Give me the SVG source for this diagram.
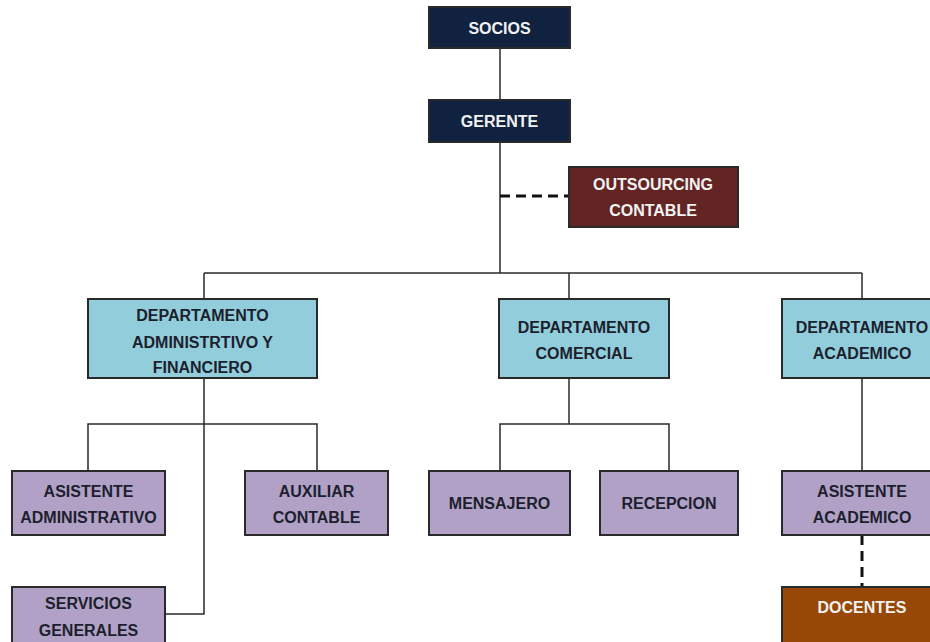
<svg xmlns="http://www.w3.org/2000/svg" width="930" height="642" viewBox="0 0 930 642">
<style>
  .box { stroke: #2a2a2a; stroke-width: 2; }
  .navy { fill: #10223f; }
  .maroon { fill: #632523; }
  .blue { fill: #92cddc; }
  .purple { fill: #b2a1c7; }
  .brown { fill: #974806; }
  text { font-family: "Liberation Sans", Arial, sans-serif; font-weight: bold; font-size: 16px; text-anchor: middle; }
  .light { fill: #f2f2f2; }
  .dark { fill: #1c1f2e; }
  .line { fill: none; stroke: #2a2a2a; stroke-width: 1.5; }
  .dash { fill: none; stroke: #111; stroke-width: 3; stroke-dasharray: 10 6; }
</style>
<rect width="930" height="642" fill="#ffffff"/>
<g id="connectors">
  <path class="line" d="M500 48 V100"/>
  <path class="line" d="M500 142 V273"/>
  <path class="line" d="M204 273 H862"/>
  <path class="line" d="M204 273 V299"/>
  <path class="line" d="M569 273 V299"/>
  <path class="line" d="M862 273 V299"/>
  <path class="line" d="M204 378 V614 H165"/>
  <path class="line" d="M88 471 V424 H317 V471"/>
  <path class="line" d="M569 378 V424"/>
  <path class="line" d="M500 471 V424 H669 V471"/>
  <path class="line" d="M862 378 V471"/>
  <path class="dash" d="M500 196 H569"/>
  <path class="dash" d="M862 535 V587"/>
</g>
<g id="socios">
  <rect class="box navy" x="429" y="7" width="141" height="41"/>
  <text class="light" x="499.5" y="33.5">SOCIOS</text>
</g>
<g id="gerente">
  <rect class="box navy" x="429" y="100" width="141" height="42"/>
  <text class="light" x="499.5" y="127">GERENTE</text>
</g>
<g id="outsourcing">
  <rect class="box maroon" x="569" y="167" width="169" height="60"/>
  <text class="light" x="653" y="190">OUTSOURCING</text>
  <text class="light" x="653" y="216">CONTABLE</text>
</g>
<g id="dept-admin">
  <rect class="box blue" x="88" y="299" width="229" height="79"/>
  <text class="dark" x="202.5" y="321">DEPARTAMENTO</text>
  <text class="dark" x="202.5" y="347.5">ADMINISTRTIVO Y</text>
  <text class="dark" x="202.5" y="373">FINANCIERO</text>
</g>
<g id="dept-comercial">
  <rect class="box blue" x="499" y="299" width="170" height="79"/>
  <text class="dark" x="584" y="332.5">DEPARTAMENTO</text>
  <text class="dark" x="584" y="359">COMERCIAL</text>
</g>
<g id="dept-academico">
  <rect class="box blue" x="782" y="299" width="160" height="79"/>
  <text class="dark" x="862" y="332.5">DEPARTAMENTO</text>
  <text class="dark" x="862" y="359">ACADEMICO</text>
</g>
<g id="asistente-admin">
  <rect class="box purple" x="12" y="471" width="153" height="64"/>
  <text class="dark" x="88.5" y="496.5">ASISTENTE</text>
  <text class="dark" x="88.5" y="522.5">ADMINISTRATIVO</text>
</g>
<g id="auxiliar-contable">
  <rect class="box purple" x="245" y="471" width="143" height="64"/>
  <text class="dark" x="316.5" y="496.5">AUXILIAR</text>
  <text class="dark" x="316.5" y="522.5">CONTABLE</text>
</g>
<g id="mensajero">
  <rect class="box purple" x="429" y="471" width="141" height="64"/>
  <text class="dark" x="499.5" y="509">MENSAJERO</text>
</g>
<g id="recepcion">
  <rect class="box purple" x="600" y="471" width="138" height="64"/>
  <text class="dark" x="669" y="509">RECEPCION</text>
</g>
<g id="asistente-academico">
  <rect class="box purple" x="782" y="471" width="160" height="64"/>
  <text class="dark" x="862" y="496.5">ASISTENTE</text>
  <text class="dark" x="862" y="522.5">ACADEMICO</text>
</g>
<g id="servicios-generales">
  <rect class="box purple" x="12" y="587" width="153" height="62"/>
  <text class="dark" x="88.5" y="609">SERVICIOS</text>
  <text class="dark" x="88.5" y="636">GENERALES</text>
</g>
<g id="docentes">
  <rect class="box brown" x="782" y="587" width="160" height="62"/>
  <text class="light" x="862" y="613">DOCENTES</text>
</g>
</svg>
